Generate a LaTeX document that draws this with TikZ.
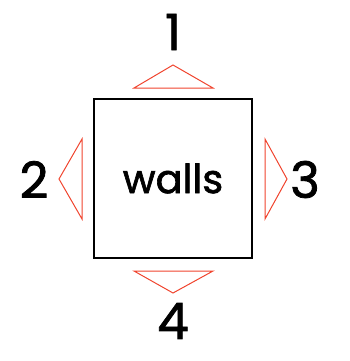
\documentclass[tikz,border=0pt]{standalone}
\usepackage{fontspec}
\setmainfont{Poppins}[BoldFont=Poppins,BoldFeatures={FakeBold=1.6}]
\definecolor{tri}{HTML}{F0442E}
\begin{document}
\begin{tikzpicture}[x=1pt,y=-1pt,
  wallbox/.style={draw=black,line width=1.5pt,minimum width=158pt,minimum height=159pt,inner sep=0pt,font=\fontsize{40}{40}\selectfont\bfseries},
  tri/.style={draw=tri,line width=1pt,line join=miter},
  lab/.style={inner sep=0pt,font=\fontsize{50}{50}\selectfont\bfseries}]
\useasboundingbox (0,0) rectangle (350,361);
\node[wallbox] (w) at (173,178.5) {walls};
\draw[tri] (134,88) -- (173,65) -- (213,88) -- cycle;
\draw[tri] (134,271) -- (173,293) -- (213,271) -- cycle;
\draw[tri] (82,139) -- (59,179) -- (82,219) -- cycle;
\draw[tri] (265,139) -- (287,179) -- (265,219) -- cycle;
\node[lab] (n1) at (173,32) {1};
\node[lab] (n2) at (34,179.5) {2};
\node[lab] (n3) at (305,179.5) {3};
\node[lab] (n4) at (173,321) {4};
\end{tikzpicture}
\end{document}
